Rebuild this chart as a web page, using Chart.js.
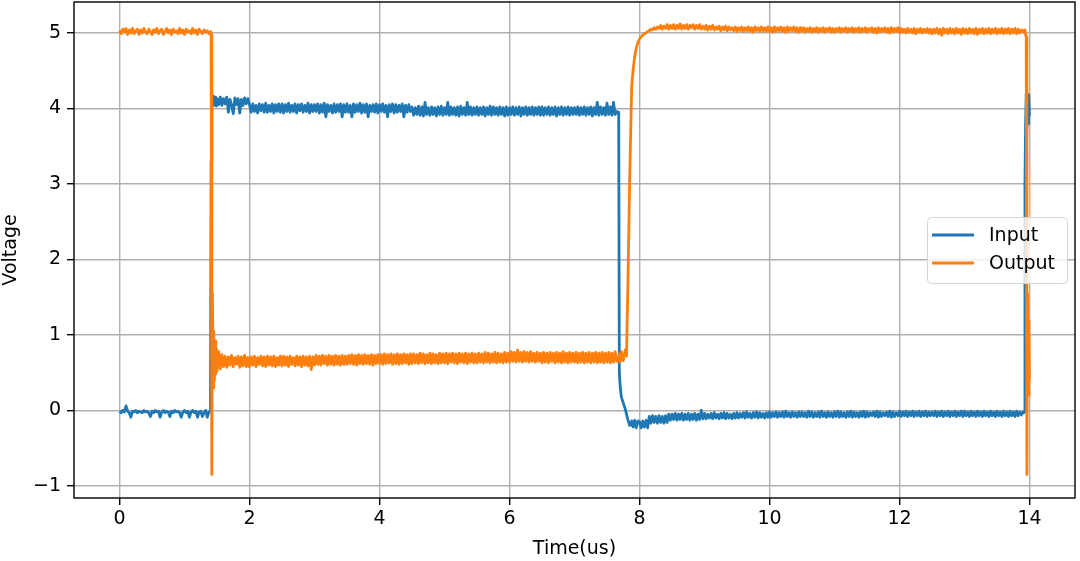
<!DOCTYPE html>
<html lang="en">
  <head>
    <meta charset="UTF-8" />
    <title>Input / Output voltage</title>
    <script src="https://cdn.jsdelivr.net/npm/chart.js"></script>
    <style>
      html, body { margin: 0; padding: 0; background: #fff; }
      #wrap { width: 1080px; height: 561px; }
    </style>
  </head>
  <body>
    <div id="wrap"><canvas id="scope" width="1080" height="561"></canvas></div>

    <script>
      // sample times (us)
      const time = [
        0,0.025,0.05,0.075,0.1,0.125,0.15,0.175,0.2,0.225,0.25,0.275,0.3,0.325,0.35,0.375,0.4,0.425,0.45,0.475,
        0.5,0.525,0.55,0.575,0.6,0.625,0.65,0.675,0.7,0.725,0.75,0.775,0.8,0.825,0.85,0.875,0.9,0.925,0.95,0.975,
        1,1.025,1.05,1.075,1.1,1.125,1.15,1.175,1.2,1.225,1.25,1.275,1.3,1.325,1.35,1.375,1.4,
        1.41,1.42,1.43,1.44,1.45,1.46,1.47,1.48,1.49,1.5,
        1.525,1.55,1.575,1.6,1.625,1.65,1.675,1.7,1.725,1.75,1.775,1.8,1.825,1.85,1.875,1.9,1.925,1.95,1.975,
        2,2.025,2.05,2.075,2.1,2.125,2.15,2.175,2.2,2.225,2.25,2.275,2.3,2.325,2.35,2.375,2.4,2.425,2.45,2.475,
        2.5,2.525,2.55,2.575,2.6,2.625,2.65,2.675,2.7,2.725,2.75,2.775,2.8,2.825,2.85,2.875,2.9,2.925,2.95,2.975,
        3,3.025,3.05,3.075,3.1,3.125,3.15,3.175,3.2,3.225,3.25,3.275,3.3,3.325,3.35,3.375,3.4,3.425,3.45,3.475,
        3.5,3.525,3.55,3.575,3.6,3.625,3.65,3.675,3.7,3.725,3.75,3.775,3.8,3.825,3.85,3.875,3.9,3.925,3.95,3.975,
        4,4.025,4.05,4.075,4.1,4.125,4.15,4.175,4.2,4.225,4.25,4.275,4.3,4.325,4.35,4.375,4.4,4.425,4.45,4.475,
        4.5,4.525,4.55,4.575,4.6,4.625,4.65,4.675,4.7,4.725,4.75,4.775,4.8,4.825,4.85,4.875,4.9,4.925,4.95,4.975,
        5,5.025,5.05,5.075,5.1,5.125,5.15,5.175,5.2,5.225,5.25,5.275,5.3,5.325,5.35,5.375,5.4,5.425,5.45,5.475,
        5.5,5.525,5.55,5.575,5.6,5.625,5.65,5.675,5.7,5.725,5.75,5.775,5.8,5.825,5.85,5.875,5.9,5.925,5.95,5.975,
        6,6.025,6.05,6.075,6.1,6.125,6.15,6.175,6.2,6.225,6.25,6.275,6.3,6.325,6.35,6.375,6.4,6.425,6.45,6.475,
        6.5,6.525,6.55,6.575,6.6,6.625,6.65,6.675,6.7,6.725,6.75,6.775,6.8,6.825,6.85,6.875,6.9,6.925,6.95,6.975,
        7,7.025,7.05,7.075,7.1,7.125,7.15,7.175,7.2,7.225,7.25,7.275,7.3,7.325,7.35,7.375,7.4,7.425,7.45,7.475,
        7.5,7.525,7.55,7.575,7.6,7.625,7.65,
        7.68,7.69,7.7,7.72,7.75,7.78,7.8,7.82,7.85,7.88,7.9,7.925,7.95,7.975,
        8,8.025,8.05,8.075,8.1,8.125,8.15,8.175,8.2,8.225,8.25,8.275,8.3,8.325,8.35,8.375,8.4,8.425,8.45,8.475,
        8.5,8.525,8.55,8.575,8.6,8.625,8.65,8.675,8.7,8.725,8.75,8.775,8.8,8.825,8.85,8.875,8.9,8.925,8.95,8.975,
        9,9.025,9.05,9.075,9.1,9.125,9.15,9.175,9.2,9.225,9.25,9.275,9.3,9.325,9.35,9.375,9.4,9.425,9.45,9.475,
        9.5,9.525,9.55,9.575,9.6,9.625,9.65,9.675,9.7,9.725,9.75,9.775,9.8,9.825,9.85,9.875,9.9,9.925,9.95,9.975,
        10,10.025,10.05,10.075,10.1,10.125,10.15,10.175,10.2,10.225,10.25,10.275,10.3,10.325,10.35,10.375,10.4,10.425,10.45,10.475,
        10.5,10.525,10.55,10.575,10.6,10.625,10.65,10.675,10.7,10.725,10.75,10.775,10.8,10.825,10.85,10.875,10.9,10.925,10.95,10.975,
        11,11.025,11.05,11.075,11.1,11.125,11.15,11.175,11.2,11.225,11.25,11.275,11.3,11.325,11.35,11.375,11.4,11.425,11.45,11.475,
        11.5,11.525,11.55,11.575,11.6,11.625,11.65,11.675,11.7,11.725,11.75,11.775,11.8,11.825,11.85,11.875,11.9,11.925,11.95,11.975,
        12,12.025,12.05,12.075,12.1,12.125,12.15,12.175,12.2,12.225,12.25,12.275,12.3,12.325,12.35,12.375,12.4,12.425,12.45,12.475,
        12.5,12.525,12.55,12.575,12.6,12.625,12.65,12.675,12.7,12.725,12.75,12.775,12.8,12.825,12.85,12.875,12.9,12.925,12.95,12.975,
        13,13.025,13.05,13.075,13.1,13.125,13.15,13.175,13.2,13.225,13.25,13.275,13.3,13.325,13.35,13.375,13.4,13.425,13.45,13.475,
        13.5,13.525,13.55,13.575,13.6,13.625,13.65,13.675,13.7,13.725,13.75,13.775,13.8,13.825,13.85,13.875,13.9,
        13.91,13.92,13.93,13.94,13.95,13.96,13.97,13.98,13.99,14
      ];

      // input voltage (V)
      const input = [
        -0.01,-0.03,0.00,-0.02,0.06,-0.01,-0.03,-0.09,-0.01,-0.02,0.00,-0.03,-0.01,-0.02,-0.03,0.00,-0.02,-0.01,-0.03,-0.08,
        -0.01,-0.03,0.00,-0.02,-0.01,-0.09,-0.02,0.00,-0.03,-0.01,-0.02,-0.08,-0.01,-0.03,0.00,-0.02,-0.01,-0.03,-0.09,-0.02,
        0.00,-0.03,-0.01,-0.09,-0.02,0.00,-0.03,-0.01,-0.09,-0.02,-0.01,-0.08,-0.03,0.00,-0.09,-0.02,-0.01,
        3.30,4.20,4.06,4.16,4.04,4.14,4.06,4.15,4.03,4.13,
        4.05,4.15,4.04,4.13,4.06,4.15,3.95,4.12,4.04,3.93,4.14,4.05,4.13,3.94,4.12,4.04,4.14,4.06,4.13,
        4.05,3.95,4.06,3.96,4.04,3.94,4.06,3.97,4.05,3.95,4.07,3.95,4.04,3.96,4.06,3.94,4.05,3.96,4.06,3.95,
        4.06,3.94,4.05,3.96,4.07,3.95,4.04,3.96,4.06,3.94,4.05,3.97,4.06,3.95,4.04,3.96,4.07,3.94,4.05,3.96,
        4.05,3.96,4.06,3.94,4.05,3.95,4.07,3.89,4.05,3.96,4.04,3.94,4.06,3.95,4.05,3.96,4.06,3.89,4.05,3.95,
        4.06,3.95,4.04,3.89,4.06,3.95,4.05,3.96,4.07,3.94,4.05,3.95,4.06,3.89,4.04,3.96,4.05,3.95,4.06,3.94,
        4.05,3.96,4.06,3.95,4.04,3.89,4.05,3.96,4.06,3.94,4.05,3.95,4.04,3.96,4.06,3.89,4.04,3.95,4.05,3.96,
        4.02,3.91,4.01,3.92,4.03,3.91,4.02,3.90,4.08,3.92,4.01,3.91,4.02,3.92,4.01,3.90,4.02,3.92,4.03,3.91,
        4.01,3.92,4.08,3.91,4.02,3.92,4.01,3.91,4.02,3.90,4.03,3.92,4.01,3.91,4.08,3.92,4.02,3.91,4.01,3.92,
        4.02,3.91,4.01,3.92,4.02,3.90,4.01,3.92,4.03,3.91,4.02,3.92,4.01,3.91,4.02,3.92,4.01,3.90,4.02,3.91,
        4.01,3.92,4.02,3.91,4.01,3.92,4.02,3.90,4.01,3.92,4.02,3.91,4.01,3.92,4.02,3.91,4.01,3.92,4.02,3.91,
        4.02,3.91,4.01,3.92,4.02,3.91,4.01,3.92,4.02,3.90,4.01,3.92,4.02,3.91,4.01,3.92,4.02,3.91,4.01,3.92,
        4.01,3.92,4.02,3.91,4.01,3.92,4.02,3.91,4.01,3.92,4.02,3.90,4.01,3.92,4.08,3.91,4.02,3.92,4.01,3.91,
        4.07,3.92,4.02,3.91,4.08,3.92,3.96,
        3.95,0.50,0.35,0.18,0.10,0.02,-0.05,-0.12,-0.20,-0.14,-0.22,-0.13,-0.23,-0.14,
        -0.15,-0.23,-0.14,-0.22,-0.13,-0.23,-0.08,-0.17,-0.07,-0.16,-0.08,-0.17,-0.07,-0.16,-0.08,-0.17,-0.07,-0.16,-0.05,-0.13,
        -0.05,-0.12,-0.04,-0.13,-0.05,-0.12,-0.04,-0.13,-0.05,-0.12,-0.04,-0.13,-0.05,-0.12,-0.04,-0.13,-0.05,-0.12,0.00,-0.11,
        -0.04,-0.11,-0.05,-0.10,-0.04,-0.11,-0.03,-0.10,-0.05,-0.11,-0.04,-0.10,-0.03,-0.11,-0.04,-0.10,-0.05,-0.11,-0.04,-0.10,
        -0.03,-0.10,-0.04,-0.09,-0.03,-0.10,-0.02,-0.09,-0.04,-0.10,-0.03,-0.09,-0.02,-0.10,-0.03,-0.09,-0.04,-0.10,-0.03,-0.09,
        -0.02,-0.09,-0.03,-0.08,-0.02,-0.09,-0.03,-0.08,-0.02,-0.09,-0.01,-0.08,-0.03,-0.09,-0.02,-0.08,-0.03,-0.09,-0.02,-0.08,
        -0.02,-0.08,-0.03,-0.09,-0.01,-0.08,-0.02,-0.09,-0.03,-0.08,-0.02,-0.09,-0.01,-0.08,-0.03,-0.09,-0.02,-0.08,-0.03,-0.09,
        -0.02,-0.08,-0.01,-0.09,-0.02,-0.08,-0.03,-0.09,-0.02,-0.08,-0.01,-0.09,-0.02,-0.08,-0.03,-0.09,-0.02,-0.08,-0.01,-0.09,
        -0.02,-0.08,-0.03,-0.07,-0.02,-0.08,-0.01,-0.09,-0.02,-0.08,-0.03,-0.07,-0.02,-0.08,-0.01,-0.09,-0.02,-0.08,-0.03,-0.07,
        -0.01,-0.08,-0.02,-0.07,-0.01,-0.08,-0.02,-0.07,-0.01,-0.08,-0.02,-0.07,-0.01,-0.08,-0.02,-0.07,-0.01,-0.08,-0.02,-0.07,
        -0.02,-0.07,-0.01,-0.08,-0.02,-0.07,-0.01,-0.08,-0.02,-0.07,-0.01,-0.08,-0.02,-0.07,-0.01,-0.08,-0.02,-0.07,-0.01,-0.08,
        -0.01,-0.07,-0.02,-0.08,-0.01,-0.07,-0.02,-0.08,-0.01,-0.07,-0.02,-0.08,-0.01,-0.07,-0.02,-0.08,-0.01,-0.07,-0.02,-0.08,
        -0.01,-0.07,-0.02,-0.08,-0.01,-0.07,-0.02,-0.08,-0.01,-0.07,-0.02,-0.08,-0.01,-0.07,-0.02,-0.06,-0.02,
        -0.03,-0.02,3.00,3.80,4.20,3.75,4.15,3.80,4.18,3.90
      ];

      // output voltage (V)
      const output = [
        5.03,4.99,5.05,5.01,5.06,4.98,5.04,5.00,5.06,4.99,5.03,5.05,4.98,5.04,5.00,5.06,5.01,4.99,5.05,5.02,
        4.98,5.04,5.01,5.06,4.99,5.03,5.05,4.98,5.02,5.06,5.00,5.04,4.98,5.05,5.01,5.03,4.99,5.06,5.00,5.04,
        4.98,5.05,5.01,5.03,4.99,5.06,5.00,5.04,4.98,5.05,5.02,4.99,5.04,5.01,5.03,4.99,5.02,
        4.98,-0.85,1.55,0.30,1.05,0.40,0.92,0.48,0.82,0.52,
        0.78,0.55,0.74,0.58,0.72,0.57,0.71,0.60,0.73,0.58,0.70,0.61,0.72,0.57,0.71,0.59,0.73,0.58,0.70,
        0.58,0.71,0.60,0.72,0.58,0.70,0.61,0.72,0.59,0.71,0.58,0.72,0.60,0.71,0.59,0.72,0.58,0.70,0.60,0.72,
        0.59,0.72,0.60,0.71,0.58,0.72,0.61,0.70,0.59,0.72,0.60,0.71,0.58,0.72,0.60,0.71,0.59,0.72,0.54,0.71,
        0.60,0.73,0.61,0.72,0.60,0.73,0.62,0.72,0.60,0.73,0.61,0.72,0.60,0.73,0.61,0.72,0.60,0.73,0.61,0.72,
        0.61,0.73,0.62,0.74,0.61,0.73,0.60,0.74,0.62,0.73,0.61,0.74,0.62,0.73,0.61,0.74,0.60,0.73,0.62,0.74,
        0.62,0.74,0.61,0.75,0.62,0.74,0.63,0.75,0.61,0.74,0.62,0.75,0.61,0.74,0.62,0.75,0.63,0.74,0.61,0.75,
        0.62,0.75,0.63,0.74,0.62,0.76,0.63,0.75,0.62,0.74,0.63,0.76,0.62,0.75,0.63,0.74,0.62,0.76,0.63,0.75,
        0.63,0.76,0.62,0.75,0.64,0.76,0.63,0.75,0.62,0.76,0.64,0.75,0.63,0.76,0.62,0.75,0.64,0.76,0.63,0.75,
        0.63,0.76,0.64,0.75,0.63,0.77,0.64,0.76,0.63,0.75,0.64,0.77,0.63,0.76,0.64,0.75,0.63,0.77,0.64,0.76,
        0.64,0.78,0.65,0.77,0.64,0.80,0.65,0.77,0.64,0.78,0.65,0.77,0.64,0.78,0.65,0.76,0.64,0.77,0.65,0.76,
        0.63,0.77,0.64,0.76,0.63,0.77,0.65,0.76,0.63,0.77,0.64,0.76,0.63,0.78,0.64,0.76,0.63,0.77,0.64,0.76,
        0.64,0.77,0.63,0.76,0.64,0.77,0.63,0.76,0.64,0.77,0.63,0.76,0.64,0.77,0.63,0.76,0.64,0.77,0.63,0.76,
        0.64,0.77,0.63,0.76,0.64,0.78,0.65,
        0.68,0.75,0.64,0.78,0.66,0.80,0.72,1.60,3.10,4.30,4.50,4.68,4.80,4.87,
        4.92,4.95,4.97,4.99,5.00,5.02,5.03,5.05,5.04,5.07,5.05,5.08,5.06,5.10,5.05,5.09,5.06,5.11,5.05,5.10,
        5.06,5.11,5.05,5.10,5.06,5.12,5.05,5.10,5.06,5.11,5.05,5.10,5.07,5.11,5.05,5.10,5.06,5.11,5.05,5.09,
        5.05,5.10,5.04,5.09,5.05,5.10,5.04,5.08,5.05,5.09,5.03,5.08,5.04,5.09,5.03,5.08,5.04,5.07,5.03,5.08,
        5.02,5.07,5.03,5.08,5.02,5.07,5.03,5.08,5.02,5.07,5.01,5.08,5.03,5.07,5.02,5.08,5.03,5.07,5.02,5.08,
        5.02,5.07,5.01,5.08,5.02,5.07,5.03,5.08,5.02,5.07,5.01,5.08,5.02,5.07,5.03,5.08,5.02,5.07,5.01,5.07,
        5.02,5.07,5.01,5.06,5.02,5.07,5.01,5.06,5.02,5.07,5.01,5.06,5.02,5.07,5.01,5.06,5.02,5.07,5.01,5.06,
        5.01,5.06,5.02,5.07,5.01,5.06,5.02,5.07,5.01,5.06,5.02,5.07,5.01,5.06,5.02,5.07,5.01,5.06,5.02,5.07,
        5.01,5.06,5.02,5.07,5.01,5.06,5.00,5.07,5.01,5.06,5.02,5.07,5.01,5.06,5.00,5.07,5.01,5.06,5.02,5.07,
        5.00,5.06,5.01,5.05,5.00,5.06,5.01,5.05,5.00,5.06,4.99,5.05,5.01,5.06,5.00,5.05,5.01,5.06,5.00,5.05,
        4.99,5.05,5.00,5.06,4.99,5.05,4.97,5.06,5.00,5.05,4.99,5.06,5.00,5.05,4.99,5.06,5.00,5.05,4.98,5.06,
        5.00,5.05,4.99,5.06,5.00,5.05,4.99,5.06,4.98,5.05,5.00,5.06,4.99,5.05,5.00,5.06,4.99,5.05,5.00,5.06,
        4.99,5.05,5.00,5.06,4.99,5.05,5.00,5.06,4.99,5.05,5.00,5.06,4.99,5.05,5.00,5.04,5.02,
        5.03,5.00,5.04,4.98,4.95,-0.85,1.55,0.20,1.20,0.40
      ];

      const xTicks = [0, 2, 4, 6, 8, 10, 12, 14];
      const yTicks = [-1, 0, 1, 2, 3, 4, 5];

      if (input.length !== time.length || output.length !== time.length) {
        throw new Error("length mismatch: time " + time.length + " input " + input.length + " output " + output.length);
      }

      const FONT = "'DejaVu Sans', sans-serif";
      const BLUE = "#1f77b4";
      const ORANGE = "#ff7f0e";

      // black box round the plot, like matplotlib spines
      const frame = {
        id: "frame",
        afterDatasetsDraw(chart) {
          const { ctx, chartArea: a } = chart;
          ctx.save();
          ctx.strokeStyle = "#000";
          ctx.lineWidth = 1.4;
          ctx.strokeRect(a.left, a.top, a.right - a.left, a.bottom - a.top);
          ctx.restore();
        }
      };

      // legend box inside the axes, right side
      const boxLegend = {
        id: "boxLegend",
        afterDraw(chart) {
          const ctx = chart.ctx;
          const x = 927, y = 217, w = 140, h = 66, r = 4;
          ctx.save();
          ctx.beginPath();
          ctx.roundRect(x + 0.5, y + 0.5, w, h, r);
          ctx.fillStyle = "rgba(255,255,255,0.8)";
          ctx.fill();
          ctx.strokeStyle = "#d6d6d6";
          ctx.lineWidth = 1;
          ctx.stroke();

          const rows = [
            { label: "Input", color: BLUE, cy: 235 },
            { label: "Output", color: ORANGE, cy: 263 }
          ];
          ctx.font = "19px " + FONT;
          ctx.textBaseline = "middle";
          ctx.textAlign = "left";
          rows.forEach(row => {
            ctx.beginPath();
            ctx.moveTo(932, row.cy);
            ctx.lineTo(974, row.cy);
            ctx.strokeStyle = row.color;
            ctx.lineWidth = 2.8;
            ctx.stroke();
            ctx.fillStyle = "#000";
            ctx.fillText(row.label, 989, row.cy + 1);
          });
          ctx.restore();
        }
      };

      new Chart(document.getElementById("scope"), {
        type: "line",
        data: {
          datasets: [
            {
              label: "Input",
              data: time.map((t, i) => ({ x: t, y: input[i] })),
              borderColor: BLUE,
              borderWidth: 2.8,
              pointRadius: 0,
              borderJoinStyle: "round",
              order: 1
            },
            {
              label: "Output",
              data: time.map((t, i) => ({ x: t, y: output[i] })),
              borderColor: ORANGE,
              borderWidth: 2.8,
              pointRadius: 0,
              borderJoinStyle: "round",
              order: 0
            }
          ]
        },
        options: {
          responsive: false,
          animation: false,
          devicePixelRatio: 1,
          layout: { padding: { left: 0, right: 5, top: 2, bottom: 0 } },
          plugins: {
            legend: { display: false },
            tooltip: { enabled: false }
          },
          scales: {
            x: {
              type: "linear",
              min: -0.7,
              max: 14.7,
              afterBuildTicks: axis => { axis.ticks = xTicks.map(v => ({ value: v })); },
              afterFit: axis => { axis.height = 63; axis.paddingLeft = 0; axis.paddingRight = 0; },
              grid: { color: "#b0b0b0", lineWidth: 1.4, tickLength: 7, tickColor: "#000" },
              border: { display: false },
              ticks: { color: "#000", font: { family: FONT, size: 19 }, padding: 3, maxRotation: 0 },
              title: {
                display: true,
                text: "Time(us)",
                color: "#000",
                font: { family: FONT, size: 19 },
                padding: { top: 0, bottom: 1 }
              }
            },
            y: {
              type: "linear",
              min: -1.16,
              max: 5.41,
              afterBuildTicks: axis => { axis.ticks = yTicks.map(v => ({ value: v })); },
              afterFit: axis => { axis.width = 74; axis.paddingTop = 0; axis.paddingBottom = 0; },
              grid: { color: "#b0b0b0", lineWidth: 1.4, tickLength: 7, tickColor: "#000" },
              border: { display: false },
              ticks: {
                color: "#000",
                font: { family: FONT, size: 19 },
                padding: 6,
                callback: v => String(v).replace("-", "\u2212")
              },
              title: {
                display: true,
                text: "Voltage",
                color: "#000",
                font: { family: FONT, size: 19 },
                padding: { top: 0, bottom: 0 }
              }
            }
          }
        },
        plugins: [frame, boxLegend]
      });
    </script>
  </body>
</html>
